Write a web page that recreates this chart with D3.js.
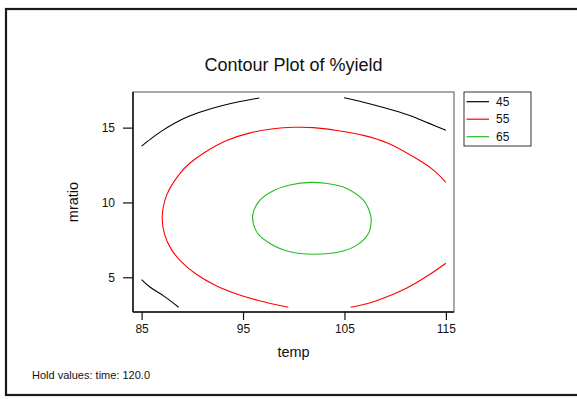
<!DOCTYPE html>
<html>
<head>
<meta charset="utf-8">
<script src="https://cdn.jsdelivr.net/npm/d3@7"></script>
<style>
  html, body { margin: 0; padding: 0; background: #fff; }
  svg { display: block; font-family: "Liberation Sans", Arial, sans-serif; }
</style>
</head>
<body>
<svg id="chart" width="577" height="399"></svg>
<script>
// Contour levels of %yield (time held at 120.0)
const levels = [45, 55, 65];
const levelColors = ["#000000", "#ff0000", "#22bb22"];

// Contour paths as [temp, mratio] points, one array per drawn segment
const contour45TopLeft = [[85.0, 13.76], [85.9, 14.25], [87.0, 14.78], [88.2, 15.28], [89.6, 15.74],
  [91.2, 16.13], [92.9, 16.46], [94.7, 16.74], [96.6, 16.98]];
const contour45TopRight = [[104.96, 17.0], [106.87, 16.70], [108.84, 16.35], [111.3, 15.85],
  [113.3, 15.3], [115.0, 14.82]];
const contour45BottomLeft = [[85.0, 4.85], [85.85, 4.33], [87.2, 3.74], [88.65, 3.0]];
const contour55Main = [[115.0, 11.34], [113.78, 12.16], [111.80, 13.05], [109.18, 13.99],
  [106.87, 14.48], [104.24, 14.81], [101.93, 15.0], [99.96, 15.02], [97.99, 14.92],
  [95.69, 14.65], [93.39, 14.14], [91.25, 13.36], [89.8, 12.65], [88.78, 11.94], [87.47, 10.49],
  [87.03, 9.04], [87.25, 7.9], [87.9, 6.9], [88.9, 6.05], [90.4, 5.2], [92.3, 4.45], [94.3, 3.9],
  [96.5, 3.45], [99.47, 3.0]];
const contour55BottomRight = [[105.6, 3.0], [107.3, 3.25], [109.2, 3.7], [111.2, 4.3], [113.2, 5.1],
  [115.0, 5.94]];
const contour65 = [[95.95, 9.15], [96.67, 10.15], [97.99, 10.78], [99.64, 11.16], [101.61, 11.34],
  [103.26, 11.27], [105.23, 10.94], [106.87, 10.15], [107.36, 9.60], [107.63, 8.93], [107.36, 7.93],
  [106.22, 7.15], [104.57, 6.70], [101.93, 6.54], [99.64, 6.70], [97.66, 7.26], [96.35, 8.03]];

const segments = [
  { level: 45, points: contour45TopLeft, closed: false },
  { level: 45, points: contour45TopRight, closed: false },
  { level: 45, points: contour45BottomLeft, closed: false },
  { level: 55, points: contour55Main, closed: false },
  { level: 55, points: contour55BottomRight, closed: false },
  { level: 65, points: contour65, closed: true }
];

const xTicks = [85, 95, 105, 115];
const yTicks = [5, 10, 15];

const svg = d3.select("#chart");

// outer frame
svg.append("rect")
  .attr("x", 6).attr("y", 9).attr("width", 600).attr("height", 386)
  .attr("fill", "none").attr("stroke", "#1a1a1a").attr("stroke-width", 2.2);

const plot = { left: 133, top: 92, right: 454, bottom: 312 };

const x = d3.scaleLinear().domain([84.15, 115.8]).range([plot.left, plot.right]);
const y = d3.scaleLinear().domain([2.68, 17.38]).range([plot.bottom, plot.top]);

// title
svg.append("text")
  .attr("x", (plot.left + plot.right) / 2).attr("y", 71)
  .attr("text-anchor", "middle").attr("font-size", 18).attr("fill", "#111")
  .text("Contour Plot of %yield");

// plot frame
svg.append("rect")
  .attr("x", plot.left).attr("y", plot.top)
  .attr("width", plot.right - plot.left).attr("height", plot.bottom - plot.top)
  .attr("fill", "none").attr("stroke", "#555").attr("stroke-width", 1);

// contours
const color = d3.scaleOrdinal().domain(levels).range(levelColors);
const openLine = d3.line().x(d => x(d[0])).y(d => y(d[1])).curve(d3.curveCatmullRom);
const closedLine = d3.line().x(d => x(d[0])).y(d => y(d[1])).curve(d3.curveCatmullRomClosed);

svg.append("g").selectAll("path").data(segments).join("path")
  .attr("d", d => (d.closed ? closedLine : openLine)(d.points))
  .attr("fill", "none")
  .attr("stroke", d => color(d.level))
  .attr("stroke-width", 1.1);

// axes
const xAxis = d3.axisBottom(x).tickValues(xTicks).tickSize(8).tickPadding(4);
const gx = svg.append("g").attr("transform", `translate(0,${plot.bottom})`).call(xAxis);
gx.select(".domain").attr("stroke", "#111").attr("stroke-width", 1.5)
  .attr("d", `M${plot.left},0H${plot.right}`);
gx.selectAll(".tick line").attr("stroke", "#111").attr("stroke-width", 1.2);
gx.selectAll(".tick text").attr("font-size", 12).attr("fill", "#111")
  .attr("font-family", "Liberation Sans, Arial, sans-serif");

const yAxis = d3.axisLeft(y).tickValues(yTicks).tickSize(10).tickPadding(8);
const gy = svg.append("g").attr("transform", `translate(${plot.left},0)`).call(yAxis);
gy.select(".domain").attr("stroke", "#111").attr("stroke-width", 1.5)
  .attr("d", `M0,${plot.top}V${plot.bottom}`);
gy.selectAll(".tick line").attr("stroke", "#111").attr("stroke-width", 1.2);
gy.selectAll(".tick text").attr("font-size", 12).attr("fill", "#111")
  .attr("font-family", "Liberation Sans, Arial, sans-serif");

// axis titles
svg.append("text")
  .attr("x", (plot.left + plot.right) / 2).attr("y", 357)
  .attr("text-anchor", "middle").attr("font-size", 14.5).attr("fill", "#111")
  .text("temp");

svg.append("text")
  .attr("transform", `translate(78,${(plot.top + plot.bottom) / 2}) rotate(-90)`)
  .attr("text-anchor", "middle").attr("font-size", 14.5).attr("fill", "#111")
  .text("mratio");

// legend
const legend = svg.append("g").attr("transform", "translate(464,92)");
legend.append("rect")
  .attr("width", 67).attr("height", 54)
  .attr("fill", "#fff").attr("stroke", "#333").attr("stroke-width", 1);
const item = legend.selectAll("g.item").data(levels).join("g")
  .attr("class", "item")
  .attr("transform", (d, i) => `translate(0,${9.7 + i * 17.5})`);
item.append("line")
  .attr("x1", 2.5).attr("x2", 25).attr("stroke", d => color(d)).attr("stroke-width", 1.2);
item.append("text")
  .attr("x", 32).attr("dy", "0.35em").attr("font-size", 12).attr("fill", "#111")
  .text(d => d);

// held factor note
svg.append("text")
  .attr("x", 32).attr("y", 379).attr("font-size", 11).attr("fill", "#111")
  .text("Hold values: time: 120.0");
</script>
</body>
</html>
